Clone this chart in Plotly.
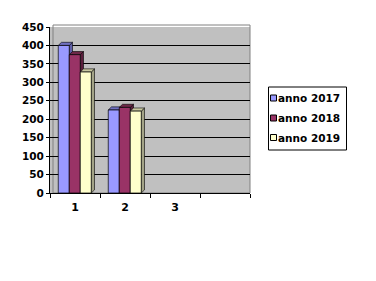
import plotly.graph_objects as go

categories = ["1", "2", "3", " "]
series_names = ["anno 2017", "anno 2018", "anno 2019"]
anno_2017 = [400, 225, None, None]
anno_2018 = [375, 232, None, None]
anno_2019 = [328, 222, None, None]
y_ticks = [0, 50, 100, 150, 200, 250, 300, 350, 400, 450]

front_colors = ["#9999FF", "#993366", "#FFFFCC"]
side_colors = ["#5F5FA8", "#5A1E3C", "#A3A387"]
top_colors = ["#7070C0", "#6E2848", "#C8C8A0"]

series = [anno_2017, anno_2018, anno_2019]
bar_w = 0.22
offsets = [-0.335, -0.115, 0.105]
dx = 0.065   # depth in category units
dy = 8.5     # depth in value units

W, H = 376, 281
ML, MR, MT, MB = 50, 126, 27, 88
PW, PH = W - ML - MR, H - MT - MB


def px_x(p):
    return (p - ML) / PW


def px_y(p):
    return (H - MB - p) / PH


FONT = "DejaVu Sans, Verdana, sans-serif"

fig = go.Figure()
for name, vals, col, off in zip(series_names, series, front_colors, offsets):
    fig.add_trace(go.Bar(
        x=categories, y=vals, name=name,
        width=bar_w, offset=off,
        marker=dict(color=col, line=dict(color="#000000", width=0.7)),
        showlegend=False,
    ))

shapes = []
for ci in range(len(categories)):
    for si, vals in enumerate(series):
        v = vals[ci]
        if v is None:
            continue
        x0 = ci + offsets[si]
        x1 = x0 + bar_w
        side = f"M {x1},0 L {x1},{v} L {x1+dx},{v+dy} L {x1+dx},{dy} Z"
        top = f"M {x0},{v} L {x0+dx},{v+dy} L {x1+dx},{v+dy} L {x1},{v} Z"
        shapes.append(dict(type="path", path=side, xref="x", yref="y",
                           fillcolor=side_colors[si], line=dict(color="#000000", width=0.6),
                           layer="between"))
        shapes.append(dict(type="path", path=top, xref="x", yref="y",
                           fillcolor=top_colors[si], line=dict(color="#000000", width=0.6),
                           layer="between"))

# wall border
shapes.append(dict(type="rect", xref="paper", yref="paper", x0=px_x(53), x1=1, y0=0, y1=px_y(25),
                   line=dict(color="#808080", width=1), fillcolor="rgba(0,0,0,0)", layer="below"))

# manual legend (box, keys, labels)
annotations = []
shapes.append(dict(type="rect", xref="paper", yref="paper",
                   x0=px_x(268.5), x1=px_x(346.5), y0=px_y(150), y1=px_y(87),
                   line=dict(color="#000000", width=1), fillcolor="#FFFFFF", layer="above"))
key_centers = [98, 118, 137.5]
for name, col, cy in zip(series_names, front_colors, key_centers):
    shapes.append(dict(type="rect", xref="paper", yref="paper",
                       x0=px_x(270.5), x1=px_x(276.5), y0=px_y(cy + 3), y1=px_y(cy - 3),
                       line=dict(color="#000000", width=1), fillcolor=col, layer="above"))
    annotations.append(dict(text=name, xref="paper", yref="paper",
                            x=px_x(277), y=px_y(cy), xanchor="left", yanchor="middle",
                            showarrow=False, borderpad=0,
                            font=dict(family=FONT, size=10.5, weight="bold", color="#000000")))

fig.update_layout(
    width=W, height=H,
    margin=dict(l=ML, r=MR, t=MT, b=MB, pad=0, autoexpand=False),
    paper_bgcolor="#FFFFFF",
    plot_bgcolor="#C0C0C0",
    font=dict(family=FONT, size=10.5, color="#000000", weight="bold"),
    showlegend=False,
    barmode="overlay",
    shapes=shapes,
    annotations=annotations,
    xaxis=dict(
        type="category", range=[-0.5, 3.5],
        tickson="boundaries", ticks="outside", ticklen=4, tickcolor="#000000",
        showline=True, linecolor="#000000", linewidth=1,
        showgrid=False, tickfont=dict(family=FONT, size=11, weight="bold"),
        ticklabelstandoff=4,
        fixedrange=True,
    ),
    yaxis=dict(
        range=[0, 450], tickvals=y_ticks,
        showgrid=True, gridcolor="#000000", gridwidth=1,
        showline=True, linecolor="#000000", linewidth=1,
        ticks="outside", ticklen=3, tickcolor="#000000",
        tickfont=dict(family=FONT, size=10.5, weight="bold"), zeroline=False,
        fixedrange=True,
    ),
)

fig.write_html("out.html")
